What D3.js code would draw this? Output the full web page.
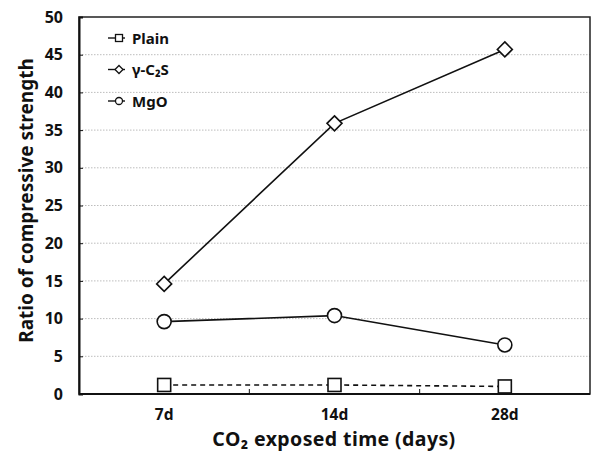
<!DOCTYPE html>
<html>
<head>
<meta charset="utf-8">
<script src="https://cdn.jsdelivr.net/npm/d3@7"></script>
<style>
  html, body { margin: 0; padding: 0; background: #fff; }
  svg text { font-family: "Noto Sans", "Open Sans", sans-serif; font-weight: bold; fill: #111; }
</style>
</head>
<body>
<svg id="chart" width="591" height="451"></svg>
<script>
// Exposure periods and strength ratios
const categories = ["7d", "14d", "28d"];
const plainValues = [1.2, 1.2, 1.0];
const c2sValues = [14.6, 35.9, 45.7];
const mgoValues = [9.6, 10.4, 6.5];
const seriesNames = ["Plain", "γ-C\u2082S", "MgO"];
const yTicks = [0, 5, 10, 15, 20, 25, 30, 35, 40, 45, 50];

const series = [
  { name: seriesNames[0], values: plainValues, marker: "square", dash: "5,4" },
  { name: seriesNames[1], values: c2sValues, marker: "diamond", dash: null },
  { name: seriesNames[2], values: mgoValues, marker: "circle", dash: null }
];

const svg = d3.select("#chart");
const margin = { left: 79, top: 17, right: 1, bottom: 57 };
const W = 591, H = 451;
const plotW = W - margin.left - margin.right;
const plotH = H - margin.top - margin.bottom;

const x = d3.scaleBand().domain(categories).range([0, plotW]).paddingInner(0).paddingOuter(0);
const y = d3.scaleLinear().domain([0, 50]).range([plotH, 0]);

const g = svg.append("g").attr("transform", `translate(${margin.left},${margin.top})`);

// dotted horizontal gridlines
g.append("g").selectAll("line")
  .data(yTicks.filter(t => t > 0 && t < 50))
  .join("line")
  .attr("x1", 0).attr("x2", plotW)
  .attr("y1", d => y(d)).attr("y2", d => y(d))
  .attr("stroke", "#bdbdbd").attr("stroke-width", 1)
  .attr("stroke-dasharray", "1.5,1.5");

// plot frame
g.append("rect")
  .attr("x", 0).attr("y", 0).attr("width", plotW).attr("height", plotH)
  .attr("fill", "none").attr("stroke", "#222").attr("stroke-width", 1.5);

// y axis
const yAxis = g.append("g")
  .call(d3.axisLeft(y).tickValues(yTicks).tickSize(-4).tickPadding(16));
yAxis.select(".domain").attr("stroke", "#111").attr("stroke-width", 2);
yAxis.selectAll(".tick line").attr("stroke", "#111");
yAxis.selectAll(".tick text").style("font-size", "16px");

// x axis: ticks between categories, labels at band centres
const xAxisG = g.append("g").attr("transform", `translate(0,${plotH})`);
xAxisG.append("line").attr("x1", 0).attr("x2", plotW).attr("y1", 0).attr("y2", 0)
  .attr("stroke", "#111").attr("stroke-width", 2);
xAxisG.selectAll("line.sep")
  .data(categories.slice(1))
  .join("line").attr("class", "sep")
  .attr("x1", d => x(d)).attr("x2", d => x(d))
  .attr("y1", 0).attr("y2", -5)
  .attr("stroke", "#111").attr("stroke-width", 1);
xAxisG.selectAll("text.lab")
  .data(categories)
  .join("text").attr("class", "lab")
  .attr("x", d => x(d) + x.bandwidth() / 2)
  .attr("y", 26)
  .attr("text-anchor", "middle")
  .style("font-size", "15.5px")
  .text(d => d);

// axis titles
svg.append("text")
  .attr("x", 334).attr("y", 445.5)
  .attr("text-anchor", "middle")
  .style("font-size", "19.5px")
  .style("letter-spacing", "0.4px")
  .text("CO\u2082 exposed time (days)");

svg.append("text")
  .attr("transform", `translate(33,${margin.top + plotH / 2 - 5}) rotate(-90)`)
  .attr("text-anchor", "middle")
  .style("font-size", "19px")
  .text("Ratio of compressive strength");

function drawMarker(sel, type, size) {
  if (type === "circle") {
    sel.append("circle").attr("r", size / 2);
  } else if (type === "square") {
    sel.append("rect").attr("x", -size / 2).attr("y", -size / 2)
      .attr("width", size).attr("height", size);
  } else {
    const s = size / 2;
    sel.append("path").attr("d", `M0,${-s}L${s},0L0,${s}L${-s},0Z`);
  }
  sel.selectAll("*").attr("fill", "#fff").attr("stroke", "#111").attr("stroke-width", 1.6);
}

const cx = d => x(d) + x.bandwidth() / 2;
const line = d3.line().x(d => cx(d.cat)).y(d => y(d.v));

series.forEach(s => {
  const pts = categories.map((c, i) => ({ cat: c, v: s.values[i] }));
  g.append("path")
    .datum(pts)
    .attr("d", line)
    .attr("fill", "none")
    .attr("stroke", "#111")
    .attr("stroke-width", 1.6)
    .attr("stroke-dasharray", s.dash);
  pts.forEach(p => {
    const m = g.append("g").attr("transform", `translate(${cx(p.cat)},${y(p.v)})`);
    drawMarker(m, s.marker, s.marker === "circle" ? 14 : (s.marker === "diamond" ? 15 : 13));
  });
});

// legend
const legend = svg.append("g").attr("transform", "translate(108,38)");
series.forEach((s, i) => {
  const row = legend.append("g").attr("transform", `translate(0,${i * 31.5})`);
  row.append("line").attr("x1", 0).attr("x2", 17).attr("y1", 0).attr("y2", 0)
    .attr("stroke", "#111").attr("stroke-width", 1.4);
  const m = row.append("g").attr("transform", "translate(11,0)");
  drawMarker(m, s.marker, s.marker === "circle" ? 7 : (s.marker === "diamond" ? 8 : 7));
  m.selectAll("*").attr("stroke-width", 1.3);
  row.append("text").attr("x", 24).attr("y", 5.5)
    .style("font-size", "15px").text(s.name);
});
</script>
</body>
</html>
